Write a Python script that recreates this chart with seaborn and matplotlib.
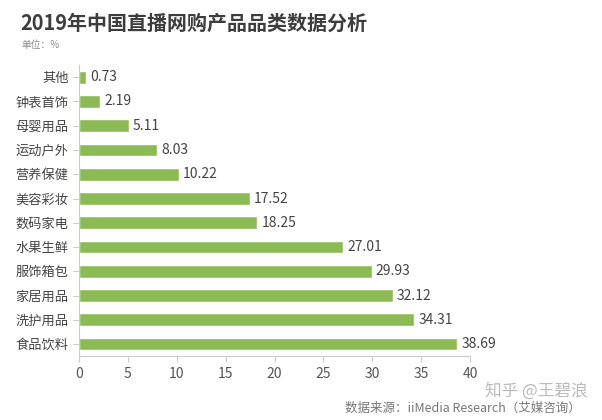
import matplotlib
matplotlib.use("Agg")
import matplotlib.pyplot as plt
import seaborn as sns
import pandas as pd

# 数据
categories = ["其他", "钟表首饰", "母婴用品", "运动户外", "营养保健", "美容彩妆",
              "数码家电", "水果生鲜", "服饰箱包", "家居用品", "洗护用品", "食品饮料"]
values = [0.73, 2.19, 5.11, 8.03, 10.22, 17.52, 18.25, 27.01, 29.93, 32.12, 34.31, 38.69]
x_ticks = [0, 5, 10, 15, 20, 25, 30, 35, 40]

df = pd.DataFrame({"category": categories, "value": values})

sns.set_style("white")
plt.rcParams["font.family"] = ["Noto Sans CJK SC", "DejaVu Sans"]

fig = plt.figure(figsize=(6.02, 4.2), dpi=100)
ax = fig.add_axes([0.131, 0.152, 0.65, 0.693])

sns.barplot(data=df, x="value", y="category", orient="h", color="#8cbb55",
            saturation=1, width=0.52, ax=ax)

for i, v in enumerate(values):
    ax.text(v + 0.4, i, f"{v:.2f}", va="center", ha="left", fontsize=10, color="#444444")

ax.set_xlim(0, 40)
ax.set_xticks(x_ticks)
ax.set_xlabel("")
ax.set_ylabel("")
for s in ["top", "right"]:
    ax.spines[s].set_visible(False)
for s in ["left", "bottom"]:
    ax.spines[s].set_color("#cccccc")
    ax.spines[s].set_linewidth(0.8)
ax.tick_params(axis="x", colors="#cccccc", labelcolor="#555555", labelsize=10,
               length=4, width=0.8, direction="out", bottom=True)
ax.tick_params(axis="y", colors="#cccccc", labelcolor="#444444", labelsize=9.5,
               length=4, width=0.8, direction="out", left=True)

fig.text(0.033, 0.945, "2019年中国直播网购产品品类数据分析", fontsize=14.4,
         fontweight="bold", color="#3d3d3d", va="center")
fig.text(0.035, 0.893, "单位：%", fontsize=7, color="#888888", va="center")
fig.text(0.805, 0.07, "知乎 @王碧浪", fontsize=12, color="#bbbbbb", va="center")
fig.text(0.573, 0.027, "数据来源：iiMedia Research（艾媒咨询）", fontsize=9,
         color="#777777", va="center")

fig.savefig("out.png", dpi=100, facecolor="white")
